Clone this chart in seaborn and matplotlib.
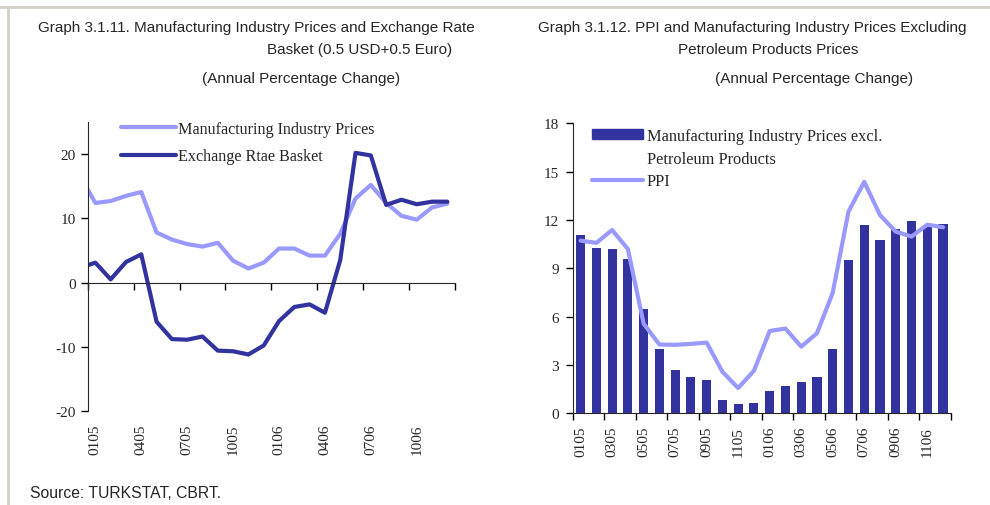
import matplotlib
matplotlib.use("Agg")
import matplotlib.pyplot as plt
import seaborn as sns
import pandas as pd
import numpy as np
from matplotlib.lines import Line2D
from matplotlib.patches import Patch

# left chart: monthly, 1204 is only partly visible at the axis edge
months_left = ["1204", "0105", "0205", "0305", "0405", "0505", "0605", "0705", "0805", "0905", "1005", "1105", "1205",
               "0106", "0206", "0306", "0406", "0506", "0606", "0706", "0806", "0906", "1006", "1106", "1206"]
mfg_prices = [16.6, 12.4, 12.7, 13.5, 14.1, 7.8, 6.7, 6.0, 5.6, 6.2, 3.4, 2.2, 3.1,
              5.3, 5.3, 4.2, 4.2, 7.6, 13.1, 15.2, 12.4, 10.4, 9.8, 11.7, 12.3]
fx_basket = [2.3, 3.1, 0.5, 3.2, 4.4, -6.1, -8.8, -8.9, -8.4, -10.6, -10.7, -11.2, -9.8,
             -6.0, -3.8, -3.4, -4.7, 3.5, 20.2, 19.8, 12.1, 12.9, 12.2, 12.6, 12.6]
left_labels = ["0105", "0405", "0705", "1005", "0106", "0406", "0706", "1006"]

# right chart
months_right = months_left[1:]
excl_petroleum = [11.07, 10.29, 10.19, 9.59, 6.49, 3.98, 2.68, 2.25, 2.04, 0.80, 0.58, 0.64,
                  1.36, 1.69, 1.94, 2.25, 3.98, 9.53, 11.69, 10.74, 11.45, 11.94, 11.65, 11.75]
ppi = [10.72, 10.58, 11.38, 10.2, 5.57, 4.27, 4.25, 4.31, 4.39, 2.58, 1.57, 2.64,
       5.11, 5.26, 4.14, 4.97, 7.48, 12.52, 14.37, 12.31, 11.28, 10.97, 11.71, 11.55]
right_labels = months_right[::2]

dark = "#3333A0"
light = "#9999FF"

sns.set_style("ticks")
plt.rcParams['font.family'] = ['Liberation Serif', 'DejaVu Serif']
plt.rcParams['font.size'] = 11
plt.rcParams['axes.unicode_minus'] = False
sans = ['Liberation Sans', 'DejaVu Sans']

fig = plt.figure(figsize=(9.9, 5.06), dpi=100)
ax1 = fig.add_axes([0.0886, 0.1858, 0.371, 0.571])
ax2 = fig.add_axes([0.5785, 0.1812, 0.382, 0.573])

# ---- left chart
dl = pd.DataFrame({"pos": np.arange(-1, len(months_left) - 1),
                   "Manufacturing Industry Prices": mfg_prices,
                   "Exchange Rtae Basket": fx_basket})
dl = dl.melt(id_vars="pos", var_name="series", value_name="value")
sns.lineplot(data=dl, x="pos", y="value", hue="series",
             palette={"Manufacturing Industry Prices": light, "Exchange Rtae Basket": dark},
             linewidth=3, legend=False, ax=ax1)
ax1.set_xlim(-0.5, 23.5)
ax1.set_ylim(-20, 25)
ax1.set_yticks([-20, -10, 0, 10, 20])
ax1.set_xlabel("")
ax1.set_ylabel("")
for s in ["top", "right"]:
    ax1.spines[s].set_visible(False)
ax1.spines["bottom"].set_position(("data", 0))
ax1.set_xticks(np.arange(-0.5, 24, 3))
ax1.set_xticklabels([])
ax1.tick_params(axis="both", direction="out", length=5, width=1, color="black", labelsize=11)
ax1.tick_params(axis="y", pad=3.5)
sec = ax1.secondary_xaxis("bottom")
sec.set_xticks(np.arange(0, 24, 3), left_labels)
sec.tick_params(length=0, pad=9, labelsize=11)
sec.spines["bottom"].set_visible(False)
plt.setp(sec.get_xticklabels(), rotation=90)

ax1.legend(handles=[Line2D([], [], color=light, lw=3), Line2D([], [], color=dark, lw=3)],
           labels=["Manufacturing Industry Prices", "Exchange Rtae Basket"],
           loc="upper left", bbox_to_anchor=(0.09, 1.005), frameon=False, fontsize=11.6,
           handlelength=3.4, handletextpad=0.15, labelspacing=0.72, borderpad=0, borderaxespad=0)

# ---- right chart
dr = pd.DataFrame({"month": months_right, "excl": excl_petroleum, "ppi": ppi})
sns.barplot(data=dr, x="month", y="excl", color=dark, saturation=1, width=0.58,
            edgecolor="none", ax=ax2)
sns.lineplot(x=np.arange(len(months_right)), y=ppi, color=light, linewidth=3, ax=ax2)
ax2.set_xlim(-0.5, 23.5)
ax2.set_ylim(0, 18)
ax2.set_yticks(np.arange(0, 19, 3))
ax2.set_xlabel("")
ax2.set_ylabel("")
for s in ["top", "right"]:
    ax2.spines[s].set_visible(False)
ax2.set_xticks(np.arange(-0.5, 24, 2))
ax2.set_xticklabels([])
ax2.set_xticks(np.arange(0, 24, 2), right_labels, minor=True)
ax2.tick_params(axis="both", which="major", direction="out", length=5, width=1, color="black", labelsize=11)
ax2.tick_params(axis="y", pad=5)
ax2.tick_params(axis="x", which="minor", length=0, pad=9, labelrotation=90, labelsize=11)

ax2.legend(handles=[Patch(color=dark), Line2D([], [], color="none"), Line2D([], [], color=light, lw=3)],
           labels=["Manufacturing Industry Prices excl.", "Petroleum Products", "PPI"],
           loc="upper left", bbox_to_anchor=(0.051, 0.985), frameon=False, fontsize=11.8,
           handlelength=3.1, handleheight=0.62, handletextpad=0.25, labelspacing=0.42,
           borderpad=0, borderaxespad=0)

# ---- titles and source
fig.text(38 / 990, 1 - 28 / 506, "Graph 3.1.11. Manufacturing Industry Prices and Exchange Rate",
         family=sans, fontsize=11, va="center", ha="left")
fig.text(360 / 990, 1 - 50 / 506, "Basket (0.5 USD+0.5 Euro)", family=sans, fontsize=11, va="center", ha="center")
fig.text(301 / 990, 1 - 79 / 506, "(Annual Percentage Change)", family=sans, fontsize=11, va="center", ha="center")
fig.text(538 / 990, 1 - 28 / 506, "Graph 3.1.12. PPI and Manufacturing Industry Prices Excluding",
         family=sans, fontsize=11, va="center", ha="left")
fig.text(768 / 990, 1 - 50 / 506, "Petroleum Products Prices", family=sans, fontsize=11, va="center", ha="center")
fig.text(814 / 990, 1 - 79 / 506, "(Annual Percentage Change)", family=sans, fontsize=11, va="center", ha="center")
fig.text(30 / 990, 1 - 494 / 506, "Source: TURKSTAT, CBRT.", family=sans, fontsize=11.3, va="center", ha="left")

# frame lines
fig.add_artist(Line2D([0, 1], [1 - 8 / 506] * 2, transform=fig.transFigure, color="#d4d0c8", lw=2))
fig.add_artist(Line2D([8 / 990] * 2, [0, 1 - 8 / 506], transform=fig.transFigure, color="#d4d0c8", lw=2))

fig.savefig("out.png", dpi=100)
